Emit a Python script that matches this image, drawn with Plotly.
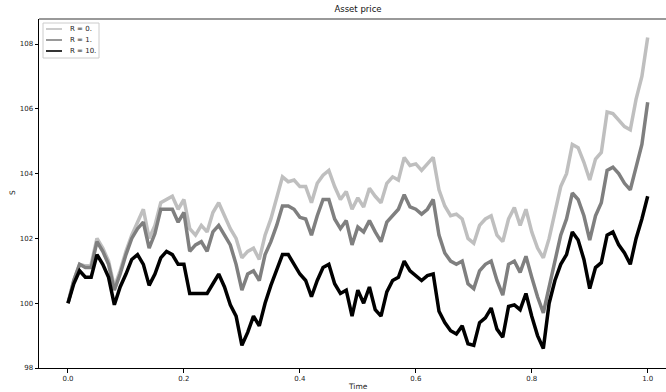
import plotly.graph_objects as go

# time grid (step 0.01)
time = [round(i * 0.01, 2) for i in range(101)]

s_r0 = [100.0, 100.7, 101.2, 101.15, 101.2, 102.0, 101.7, 101.3, 100.5, 101.0,
        101.6, 102.1, 102.5, 102.9, 102.0, 102.4, 103.1, 103.2, 103.3, 102.9,
        103.2, 102.3, 102.1, 102.4, 102.2, 102.8, 103.1, 102.7, 102.3, 102.0,
        101.4, 101.6, 101.7, 101.35, 102.1, 102.6, 103.3, 103.9, 103.75, 103.8,
        103.6, 103.6, 103.1, 103.7, 103.95, 104.1, 103.6, 103.2, 103.45, 102.9,
        103.25, 102.97, 103.55, 103.3, 103.1, 103.7, 103.9, 103.8, 104.5, 104.25,
        104.3, 104.1, 104.3, 104.5, 103.5, 103.0, 102.7, 102.75, 102.6, 102.0,
        101.85, 102.4, 102.6, 102.7, 102.1, 101.9, 102.6, 102.95, 102.4, 102.9,
        102.2, 101.7, 101.4, 102.0, 102.8, 103.6, 104.0, 104.9, 104.8, 104.35,
        103.8, 104.45, 104.65, 105.9, 105.85, 105.65, 105.45, 105.35, 106.3, 107.0,
        108.2]

s_r1 = [100.0, 100.7, 101.2, 101.1, 101.1, 101.9, 101.6, 101.2, 100.4, 100.9,
        101.5, 102.0, 102.3, 102.5, 101.7, 102.15, 102.9, 102.9, 102.9, 102.5,
        102.8, 101.6, 101.8, 101.9, 101.6, 102.2, 102.4, 102.1, 101.8, 101.2,
        100.4, 100.9, 101.0, 100.7, 101.5, 101.9, 102.4, 103.0, 103.0, 102.9,
        102.65, 102.6, 102.1, 102.7, 103.2, 103.2, 102.6, 102.3, 102.55, 101.8,
        102.35, 102.2, 102.55, 102.2, 101.9, 102.5, 102.7, 102.9, 103.35, 102.97,
        102.9, 102.75, 102.9, 103.2, 102.1, 101.55, 101.3, 101.2, 101.3, 100.6,
        100.45, 101.0, 101.2, 101.3, 100.7, 100.25, 101.2, 101.3, 100.95, 101.45,
        100.8, 100.2, 99.7, 100.5, 101.4, 102.1, 102.6, 103.4, 103.2, 102.7,
        101.95, 102.7, 103.1, 104.1, 104.2, 104.0, 103.7, 103.5, 104.2, 104.9,
        106.2]

s_r10 = [100.0, 100.6, 101.0, 100.8, 100.8, 101.5, 101.2, 100.8, 99.95, 100.5,
         100.9, 101.35, 101.5, 101.2, 100.55, 100.9, 101.4, 101.6, 101.5, 101.2,
         101.2, 100.3, 100.3, 100.3, 100.3, 100.6, 100.9, 100.5, 99.95, 99.6,
         98.7, 99.1, 99.6, 99.3, 100.0, 100.55, 101.0, 101.5, 101.5, 101.2,
         100.9, 100.7, 100.2, 100.7, 101.1, 101.2, 100.6, 100.3, 100.4, 99.6,
         100.4, 100.0, 100.5, 99.8, 99.6, 100.35, 100.7, 100.8, 101.3, 101.0,
         100.85, 100.7, 100.85, 100.9, 99.75, 99.4, 99.15, 99.05, 99.3, 98.75,
         98.7, 99.4, 99.55, 99.85, 99.2, 98.95, 99.9, 99.95, 99.8, 100.3,
         99.6, 99.0, 98.6, 100.0, 100.7, 101.2, 101.5, 102.2, 101.95, 101.35,
         100.45, 101.1, 101.25, 102.1, 102.2, 101.8, 101.55, 101.2, 102.0, 102.6,
         103.3]

series_names = ["R = 0.", "R = 1.", "R = 10."]
series_values = [s_r0, s_r1, s_r10]
series_colors = ["#bfbfbf", "#7f7f7f", "#000000"]

x_ticks = [0.0, 0.2, 0.4, 0.6, 0.8, 1.0]
y_ticks = [98, 100, 102, 104, 106, 108]

FONT = "DejaVu Sans"
TXT = "#222222"

# plot-area geometry in pixels
L, T, W, H = 39, 19, 627, 349


def px(X):
    return (X - L) / W


def py(Y):
    return (T + H - Y) / H


fig = go.Figure()
for name, vals, col in zip(series_names, series_values, series_colors):
    fig.add_trace(go.Scatter(x=time, y=vals, mode="lines", name=name,
                             line=dict(color=col, width=3.5), showlegend=False))

shapes = [
    # top spine
    dict(type="line", xref="paper", yref="paper", x0=0, x1=1, y0=1, y1=1,
         line=dict(color="#777777", width=1.5)),
    # legend frame
    dict(type="rect", xref="paper", yref="paper", x0=px(43), x1=px(99), y0=py(58), y1=py(23),
         line=dict(color="#cccccc", width=1), fillcolor="rgba(255,255,255,0.8)", layer="above"),
]
annotations = [
    dict(text="Time", xref="paper", yref="paper", x=px(357.5), y=py(386.5),
         xanchor="center", yanchor="middle", showarrow=False,
         font=dict(family=FONT, size=7.5, color=TXT)),
    dict(text="S", xref="paper", yref="paper", x=px(12), y=py(193), textangle=-90,
         xanchor="center", yanchor="middle", showarrow=False,
         font=dict(family=FONT, size=7.5, color=TXT)),
]
for i, (name, col) in enumerate(zip(series_names, series_colors)):
    yy = 29 + 11 * i
    shapes.append(dict(type="line", xref="paper", yref="paper", x0=px(46), x1=px(62),
                       y0=py(yy), y1=py(yy), line=dict(color=col, width=1.6), layer="above"))
    annotations.append(dict(text=name, xref="paper", yref="paper", x=px(67.5), y=py(yy),
                            xanchor="left", yanchor="middle", showarrow=False,
                            font=dict(family=FONT, size=7, color=TXT)))

fig.update_layout(
    width=666, height=392,
    margin=dict(l=L, r=666 - L - W, t=T, b=392 - T - H, autoexpand=False),
    paper_bgcolor="white", plot_bgcolor="white",
    font=dict(family=FONT, size=7, color=TXT),
    showlegend=False,
    title=dict(text="Asset price", x=(358 - L) / W, xref="paper", xanchor="center",
               y=1 - 9.5 / 392, yref="container", yanchor="middle",
               font=dict(family=FONT, size=8.5, color="#111111")),
    xaxis=dict(range=[-0.05, -0.05 + W / 579.7], tickvals=x_ticks,
               ticktext=[f"{v:.1f}" for v in x_ticks], automargin=False,
               showgrid=False, zeroline=False, showline=True, linecolor="black", linewidth=1,
               ticks="outside", ticklen=3.5, tickwidth=1, tickcolor="black",
               tickfont=dict(family=FONT, size=7, color=TXT)),
    yaxis=dict(range=[98, 98 + H / 32.4], tickvals=y_ticks, automargin=False,
               showgrid=False, zeroline=False, showline=True, linecolor="black", linewidth=1,
               ticks="outside", ticklen=3.5, tickwidth=1, tickcolor="black",
               tickfont=dict(family=FONT, size=7, color=TXT)),
    shapes=shapes,
    annotations=annotations,
)

fig.write_html("out.html", config={"displayModeBar": False},
               post_script="document.body.style.margin='0';document.body.style.padding='0';")
